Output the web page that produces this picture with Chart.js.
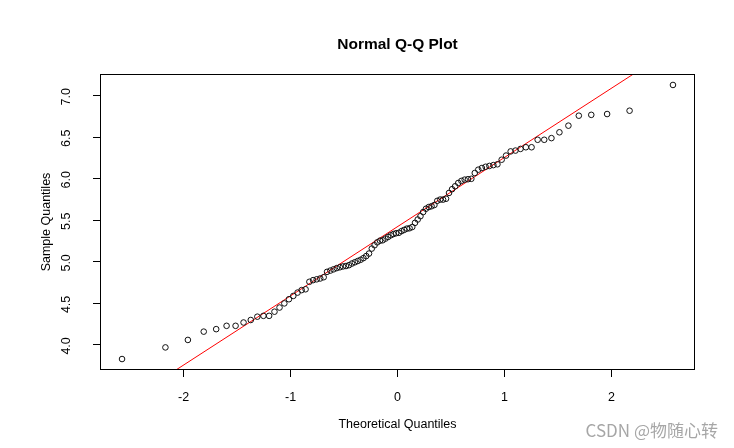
<!DOCTYPE html>
<html>
<head>
<meta charset="utf-8">
<script src="https://cdn.jsdelivr.net/npm/chart.js@4.4.0/dist/chart.umd.min.js"></script>
<style>
  html, body { margin: 0; padding: 0; background: #ffffff; }
  #c { display: block; }
</style>
</head>
<body>
<canvas id="c" width="734" height="448"></canvas>
<script>
// ---- data ----
const theoreticalQuantiles = [
  -2.5758, -2.1701, -1.9600, -1.8119, -1.6954, -1.5982, -1.5141, -1.4395, -1.3722, -1.3106,
  -1.2536, -1.2004, -1.1503, -1.1031, -1.0581, -1.0152, -0.9741, -0.9346, -0.8965, -0.8596,
  -0.8239, -0.7892, -0.7554, -0.7225, -0.6903, -0.6588, -0.6280, -0.5978, -0.5681, -0.5388,
  -0.5101, -0.4817, -0.4538, -0.4261, -0.3989, -0.3719, -0.3451, -0.3186, -0.2924, -0.2663,
  -0.2404, -0.2147, -0.1891, -0.1637, -0.1383, -0.1130, -0.0878, -0.0627, -0.0376, -0.0125,
   0.0125,  0.0376,  0.0627,  0.0878,  0.1130,  0.1383,  0.1637,  0.1891,  0.2147,  0.2404,
   0.2663,  0.2924,  0.3186,  0.3451,  0.3719,  0.3989,  0.4261,  0.4538,  0.4817,  0.5101,
   0.5388,  0.5681,  0.5978,  0.6280,  0.6588,  0.6903,  0.7225,  0.7554,  0.7892,  0.8239,
   0.8596,  0.8965,  0.9346,  0.9741,  1.0152,  1.0581,  1.1031,  1.1503,  1.2004,  1.2536,
   1.3106,  1.3722,  1.4395,  1.5141,  1.5982,  1.6954,  1.8119,  1.9600,  2.1701,  2.5758
];
const sampleQuantiles = [
  3.83, 3.97, 4.06, 4.16, 4.19, 4.23, 4.23, 4.27, 4.30, 4.34,
  4.35, 4.35, 4.40, 4.45, 4.50, 4.55, 4.59, 4.63, 4.66, 4.67,
  4.76, 4.78, 4.79, 4.80, 4.815, 4.88, 4.895, 4.91, 4.925, 4.935,
  4.945, 4.95, 4.96, 4.98, 4.995, 5.01, 5.025, 5.045, 5.07, 5.10,
  5.16, 5.20, 5.235, 5.255, 5.26, 5.28, 5.30, 5.32, 5.335, 5.345,
  5.35, 5.37, 5.385, 5.40, 5.405, 5.42, 5.47, 5.51, 5.55, 5.60,
  5.64, 5.66, 5.67, 5.685, 5.735, 5.75, 5.75, 5.76, 5.83, 5.875,
  5.91, 5.95, 5.975, 5.99, 5.995, 6.00, 6.07, 6.11, 6.13, 6.145,
  6.155, 6.165, 6.175, 6.23, 6.28, 6.33, 6.34, 6.36, 6.38, 6.38,
  6.47, 6.47, 6.49, 6.56, 6.64, 6.76, 6.77, 6.78, 6.82, 7.13
];
// qqline (through the quartiles)
const qqLineIntercept = 5.424;
const qqLineSlope = 0.833;
const qqLineX = [-3.5, 3.5];

const xTickValues = [-2, -1, 0, 1, 2];
const xTickLabels = ['-2', '-1', '0', '1', '2'];
const yTickValues = [4.0, 4.5, 5.0, 5.5, 6.0, 6.5, 7.0];
const yTickLabels = ['4.0', '4.5', '5.0', '5.5', '6.0', '6.5', '7.0'];

const titleText = 'Normal Q-Q Plot';
const xTitleText = 'Theoretical Quantiles';
const yTitleText = 'Sample Quantiles';
const watermarkText = 'CSDN @物随心转';

// ---- build ----
const FONT = '"Liberation Sans", Arial, Helvetica, sans-serif';
const points = theoreticalQuantiles.map((x, i) => ({ x: x, y: sampleQuantiles[i] }));
const linePts = qqLineX.map(x => ({ x: x, y: qqLineIntercept + qqLineSlope * x }));

// R-style axis extension: data range +/- 4%
function ext(arr) {
  const mn = Math.min(...arr), mx = Math.max(...arr);
  const d = (mx - mn) * 0.04;
  return [mn - d, mx + d];
}
const [xMin, xMax] = ext(theoreticalQuantiles);
const [yMin, yMax] = ext(sampleQuantiles);

const PLOT_LEFT = 100, PLOT_RIGHT = 695, PLOT_TOP = 74, PLOT_BOTTOM = 370;
const W = 734, H = 448;

const decorPlugin = {
  id: 'decor',
  beforeDraw(chart) {
    const ctx = chart.ctx;
    ctx.save();
    ctx.fillStyle = '#ffffff';
    ctx.fillRect(0, 0, chart.width, chart.height);
    ctx.restore();
  },
  afterDraw(chart) {
    const ctx = chart.ctx;
    const a = chart.chartArea;
    const ys = chart.scales.y;
    ctx.save();
    // box
    ctx.strokeStyle = '#000';
    ctx.lineWidth = 1;
    ctx.strokeRect(Math.round(a.left) + 0.5, Math.round(a.top) + 0.5,
                   Math.round(a.right - a.left) - 1, Math.round(a.bottom - a.top) - 1);
    // y tick labels (rotated like R)
    ctx.fillStyle = '#000';
    ctx.font = '12.5px ' + FONT;
    ctx.textAlign = 'center';
    ctx.textBaseline = 'middle';
    yTickValues.forEach((v, i) => {
      const py = ys.getPixelForValue(v);
      ctx.save();
      ctx.translate(67, py + 1);
      ctx.rotate(-Math.PI / 2);
      ctx.fillText(yTickLabels[i], 0, 0);
      ctx.restore();
    });
    // title
    const cx = (a.left + a.right) / 2;
    ctx.font = 'bold 15.5px ' + FONT;
    ctx.fillText(titleText, cx, 44.5);
    // x title
    ctx.font = '12.5px ' + FONT;
    ctx.fillText(xTitleText, cx, 425);
    // y title
    ctx.save();
    ctx.translate(47, (a.top + a.bottom) / 2);
    ctx.rotate(-Math.PI / 2);
    ctx.fillText(yTitleText, 0, 0);
    ctx.restore();
    // watermark
    ctx.font = '17px "Noto Sans CJK SC", ' + FONT;
    ctx.fillStyle = 'rgba(150,150,150,0.85)';
    ctx.textAlign = 'right';
    ctx.fillText(watermarkText, 718, 431);
    ctx.restore();
  }
};

new Chart(document.getElementById('c'), {
  type: 'scatter',
  data: {
    datasets: [
      {
        label: 'sample',
        data: points,
        showLine: false,
        pointStyle: 'circle',
        pointRadius: 2.8,
        pointBorderWidth: 1,
        pointBorderColor: '#111',
        pointBackgroundColor: 'rgba(0,0,0,0)',
        pointHoverRadius: 2.8,
        order: 1
      },
      {
        type: 'line',
        label: 'qqline',
        data: linePts,
        showLine: true,
        borderColor: '#ff0000',
        borderWidth: 1,
        pointRadius: 0,
        fill: false,
        order: 2
      }
    ]
  },
  options: {
    responsive: false,
    animation: false,
    devicePixelRatio: 1,
    events: [],
    layout: { padding: { left: 0, right: W - PLOT_RIGHT, top: PLOT_TOP, bottom: 0 } },
    plugins: { legend: { display: false }, tooltip: { enabled: false }, title: { display: false } },
    scales: {
      x: {
        type: 'linear',
        min: xMin,
        max: xMax,
        afterBuildTicks(scale) { scale.ticks = xTickValues.map(v => ({ value: v })); },
        afterFit(scale) { scale.height = H - PLOT_BOTTOM; },
        border: { display: false },
        grid: { drawOnChartArea: false, drawTicks: true, tickLength: 7, color: '#000', lineWidth: 1 },
        ticks: {
          color: '#000',
          padding: 13,
          maxRotation: 0,
          font: { family: FONT, size: 12.5 },
          callback(value) {
            const i = xTickValues.indexOf(value);
            return i >= 0 ? xTickLabels[i] : '';
          }
        }
      },
      y: {
        type: 'linear',
        min: yMin,
        max: yMax,
        afterBuildTicks(scale) { scale.ticks = yTickValues.map(v => ({ value: v })); },
        afterFit(scale) { scale.width = PLOT_LEFT; },
        border: { display: false },
        grid: { drawOnChartArea: false, drawTicks: true, tickLength: 7, color: '#000', lineWidth: 1 },
        ticks: { display: false }
      }
    }
  },
  plugins: [decorPlugin]
});
</script>
</body>
</html>
